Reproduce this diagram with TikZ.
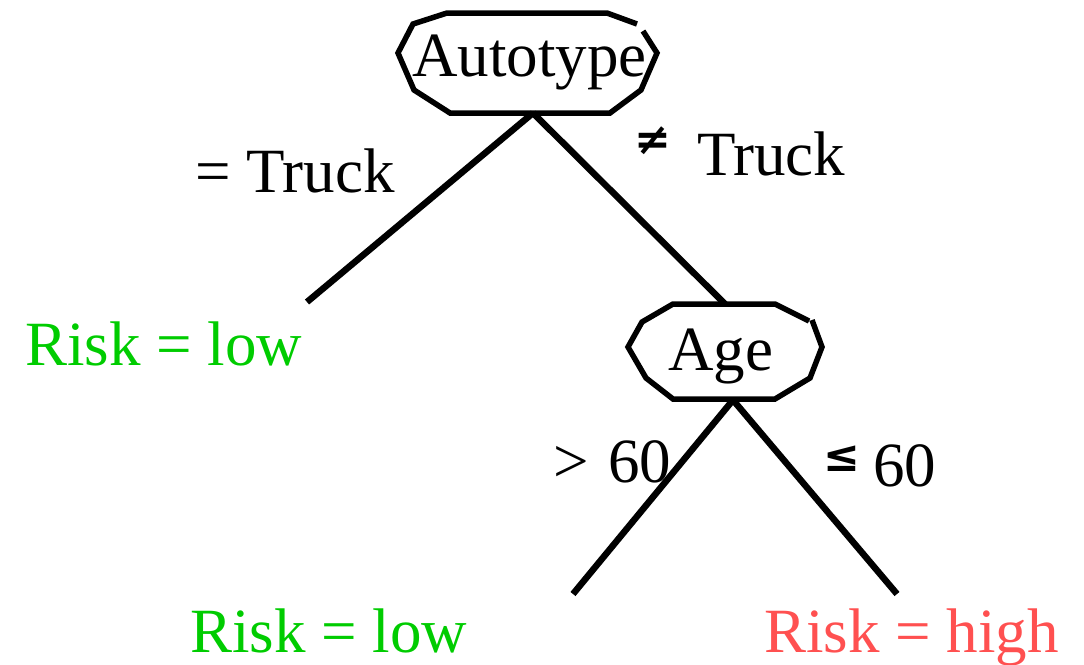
\documentclass[tikz,border=0pt]{standalone}
\usepackage{fontspec}
\setmainfont{Liberation Serif}
\newfontfamily\relfont{DejaVu Sans}
\definecolor{leafgreen}{RGB}{0,204,0}
\definecolor{leafred}{RGB}{255,80,80}
\begin{document}
\begin{tikzpicture}[x=1pt,y=-1pt]
\tikzset{
  txt/.style={inner sep=0pt, anchor=base west, font=\fontsize{63}{63}\selectfont},
  rel/.style={inner sep=0pt, anchor=base west, font=\relfont\bfseries\fontsize{44}{44}\selectfont},
  frame/.style={line width=5.5pt, line join=miter},
  branch/.style={line width=6.5pt},
  low/.style={txt, text=leafgreen},
  high/.style={txt, text=leafred}
}
\useasboundingbox (0,0) rectangle (1084,664);

% root test
\draw[frame] (643,31) -- (657,53) -- (641,90) -- (610,113) -- (450,113)
  -- (414,90) -- (398,53) -- (413,24) -- (447,13) -- (607,13) -- (637,24);
\node[txt] (autotype) at (412,76) {Autotype};
\coordinate (autobot) at (533,113);

% second test
\draw[frame] (812,320) -- (822,347) -- (810,378) -- (775,399) -- (673,399)
  -- (646,378) -- (628,347) -- (642,322) -- (673,304) -- (775,304) -- (809,321);
\node[txt] (age) at (668,370) {Age};
\coordinate (agetop) at (725,304);
\coordinate (agebot) at (733,400);

% branch ends
\coordinate (leftend) at (307,302);
\coordinate (llend) at (573,594);
\coordinate (lrend) at (897,594);

\draw[branch] (autobot) -- (leftend);
\draw[branch] (autobot) -- (agetop);
\draw[branch] (agebot) -- (llend);
\draw[branch] (agebot) -- (lrend);

% branch labels
\node[txt] (eqtruck) at (195,192) {= Truck};
\node[rel] (neq) at (634,154) {≠};
\node[txt] (netruck) at (697,175) {Truck};
\node[txt] (gt) at (553,482) {>\hspace{4pt} 60};
\node[rel] (leq) at (823,471) {≤};
\node[txt] (le60) at (873,486) {60};

% leaves
\node[low] (leaf1) at (25,365) {Risk = low};
\node[low] (leaf2) at (190,652) {Risk = low};
\node[high] (leaf3) at (764,652) {Risk = high};
\end{tikzpicture}
\end{document}
